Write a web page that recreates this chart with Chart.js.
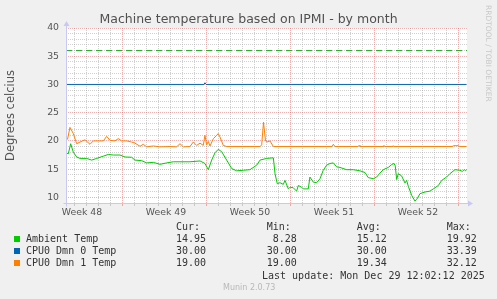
<!DOCTYPE html>
<html>
<head>
<meta charset="utf-8">
<script src="https://cdn.jsdelivr.net/npm/chart.js@4.4.1/dist/chart.umd.min.js"></script>
<style>
body { margin: 0; background: #f0f0f0; width: 497px; height: 299px; overflow: hidden; position: relative; font-family: "DejaVu Sans", sans-serif; }
canvas { position: absolute; left: 0; top: 0; }
.t { position: absolute; white-space: pre; }
.m { font-family: "DejaVu Sans Mono", monospace; font-size: 10px; line-height: 12px; color: #333; }
#title { left: 0; width: 497px; top: 11px; text-align: center; font-size: 12.5px; color: #505050; }
#rrd { left: 484px; top: 5px; writing-mode: vertical-rl; font-size: 7.5px; color: #c8c8c8; }
#munin { left: 223px; top: 283px; font-size: 8px; color: #b8b8b8; }
.sw { position: absolute; width: 6px; height: 6px; }
</style>
</head>
<body>
<canvas id="chart" width="497" height="299"></canvas>
<div class="t" id="title">Machine temperature based on IPMI - by month</div>
<div class="t" id="rrd">RRDTOOL / TOBI OETIKER</div>
<div id="legend"></div>
<div class="t m" style="left:262px;top:270px">Last update: Mon Dec 29 12:02:12 2025</div>
<div class="t" id="munin">Munin 2.0.73</div>
<script>
// time in days from the left edge of the graph
const ambientDays = [0.04, 0.19, 0.39, 0.61, 0.89, 1.17, 1.72, 2.14, 2.56, 3.11, 3.53, 3.94, 4.5, 4.92, 5.47, 5.75, 6.31, 6.72, 7.28, 7.83, 8.39, 8.94, 9.5, 10.33, 11.17, 11.58, 11.86, 12.14, 12.42, 12.69, 12.97, 13.39, 13.81, 14.22, 14.78, 15.33, 15.89, 16.17, 16.72, 17.28, 17.42, 17.61, 17.83, 18.11, 18.25, 18.53, 18.67, 18.94, 19.22, 19.36, 19.64, 19.78, 20.19, 20.33, 20.61, 20.89, 21.17, 21.44, 21.72, 22.0, 22.28, 22.56, 22.83, 23.39, 23.94, 24.5, 24.92, 25.19, 25.61, 25.89, 26.17, 26.44, 26.86, 27.14, 27.33, 27.44, 27.56, 27.69, 27.97, 28.25, 28.39, 28.53, 28.81, 29.08, 29.22, 29.5, 29.92, 30.33, 30.61, 31.03, 31.31, 31.72, 32.0, 32.42, 32.83, 33.03, 33.19, 33.31, 33.37];
const ambientTemp = [17.9, 17.7, 19.5, 18.0, 17.15, 16.9, 16.9, 16.6, 16.9, 17.3, 17.6, 17.5, 17.5, 17.15, 17.1, 16.6, 16.5, 16.1, 16.2, 15.85, 16.1, 16.3, 16.3, 16.3, 16.45, 16.0, 14.9, 16.6, 17.9, 18.5, 18.1, 16.6, 15.1, 14.7, 14.8, 14.9, 15.7, 16.6, 16.9, 17.0, 14.2, 12.4, 12.6, 12.3, 13.0, 11.5, 11.8, 11.7, 11.1, 12.1, 11.8, 11.5, 11.5, 13.6, 12.7, 12.6, 13.3, 14.8, 15.7, 16.0, 16.1, 15.4, 15.3, 14.9, 14.9, 14.7, 14.4, 13.5, 13.3, 13.6, 14.3, 14.9, 15.3, 15.8, 16.0, 15.6, 13.15, 14.2, 13.8, 12.55, 13.0, 11.95, 10.35, 9.35, 9.6, 10.65, 10.95, 11.1, 11.5, 12.1, 13.0, 13.6, 14.2, 14.9, 14.8, 14.6, 14.9, 14.7, 14.95];

const dmn0Days = [0.04, 11.5, 11.58, 11.67, 33.37];
const dmn0Temp = [30, 30, 30.3, 30, 30];

const dmn1Days = [0.04, 0.13, 0.33, 0.61, 0.89, 1.17, 1.58, 2.0, 2.28, 3.11, 3.39, 3.67, 4.08, 4.36, 4.64, 5.06, 5.47, 5.75, 6.17, 6.44, 6.72, 7.28, 7.83, 8.67, 9.22, 9.5, 9.78, 10.33, 10.61, 10.89, 11.17, 11.44, 11.58, 11.72, 11.86, 12.0, 12.28, 12.56, 12.69, 12.83, 13.11, 13.39, 16.17, 16.31, 16.46, 16.63, 16.75, 17.0, 17.28, 22.17, 22.28, 22.42, 24.33, 24.42, 24.5, 26.42, 26.5, 26.58, 27.17, 27.25, 27.33, 32.17, 32.33, 32.67, 32.83, 33.37];
const dmn1Temp = [20.4, 20.3, 22.4, 21.3, 19.5, 19.8, 20.2, 19.4, 20.0, 20.0, 20.8, 20.1, 20.0, 20.4, 20.0, 20.0, 19.8, 19.6, 19.05, 19.4, 18.95, 19.1, 18.95, 19.0, 18.95, 19.5, 18.95, 19.0, 19.8, 19.2, 19.6, 19.2, 21.0, 19.3, 19.9, 19.1, 20.4, 21.0, 21.3, 20.7, 19.2, 19.0, 19.0, 19.3, 23.3, 20.0, 19.8, 20.0, 19.0, 19.0, 19.4, 19.0, 19.0, 19.2, 19.0, 19.0, 19.2, 19.0, 19.0, 19.15, 19.0, 19.0, 19.15, 19.15, 19.0, 19.0];

const warningLevel = 36;
const spanDays = 33.42;

const weekLabels = ['Week 48', 'Week 49', 'Week 50', 'Week 51', 'Week 52'];
const weekCenters = [1.33, 8.33, 15.33, 22.33, 29.33];
const firstDayLine = 0.75;
const yTicks = [10, 15, 20, 25, 30, 35, 40];

const seriesNames = ['Ambient Temp', 'CPU0 Dmn 0 Temp', 'CPU0 Dmn 1 Temp'];
const seriesColors = ['#00cc00', '#0066b3', '#ff8000'];
const curValues = ['14.95', '30.00', '19.00'];
const minValues = [' 8.28', '30.00', '19.00'];
const avgValues = ['15.12', '30.00', '19.34'];
const maxValues = ['19.92', '33.39', '32.12'];

// legend table
const legend = document.getElementById('legend');
const cols = [176, 266.7, 356.7, 446.7];
['Cur:', 'Min:', 'Avg:', 'Max:'].forEach((h, i) => {
    legend.insertAdjacentHTML('beforeend', `<div class="t m" style="left:${cols[i]}px;top:221px">${h}</div>`);
});
seriesNames.forEach((name, r) => {
    const top = 233 + r * 12.2;
    legend.insertAdjacentHTML('beforeend', `<div class="sw" style="left:14px;top:${top + 3}px;background:${seriesColors[r]}"></div>`);
    legend.insertAdjacentHTML('beforeend', `<div class="t m" style="left:26px;top:${top}px">${name}</div>`);
    [curValues, minValues, avgValues, maxValues].forEach((vals, i) => {
        legend.insertAdjacentHTML('beforeend', `<div class="t m" style="left:${cols[i]}px;top:${top}px">${vals[r]}</div>`);
    });
});

function points(xs, ys) {
    return xs.map((x, i) => ({ x: x, y: ys[i] }));
}

const frame = {
    id: 'frame',
    beforeDraw(chart) {
        const { ctx, chartArea: a } = chart;
        ctx.save();
        ctx.fillStyle = '#ffffff';
        ctx.fillRect(a.left, a.top, a.right - a.left, a.bottom - a.top);
        ctx.restore();
    },
    afterDraw(chart) {
        const { ctx, chartArea: a } = chart;
        const x0 = Math.round(a.left) + 0.5;
        const y0 = Math.round(a.bottom) + 0.5;
        ctx.save();
        ctx.strokeStyle = '#c8c8f4';
        ctx.fillStyle = '#c8c8f4';
        ctx.lineWidth = 1;
        ctx.beginPath();
        ctx.moveTo(x0 - 3, y0);
        ctx.lineTo(a.right + 2, y0);
        ctx.moveTo(x0, y0 + 3);
        ctx.lineTo(x0, a.top - 4);
        ctx.stroke();
        ctx.beginPath();
        ctx.moveTo(a.right + 1, y0 - 3);
        ctx.lineTo(a.right + 6, y0);
        ctx.lineTo(a.right + 1, y0 + 3);
        ctx.fill();
        ctx.beginPath();
        ctx.moveTo(x0 - 3, a.top - 2);
        ctx.lineTo(x0, a.top - 7);
        ctx.lineTo(x0 + 3, a.top - 2);
        ctx.fill();
        ctx.restore();
    }
};

const minorGrid = 'rgba(150,150,150,0.45)';
const majorGrid = 'rgba(222,80,80,0.45)';

function dayColor(c) {
    const v = c.tick.value;
    if (weekCenters.indexOf(v) >= 0) return 'rgba(0,0,0,0)';
    return Math.round(v - firstDayLine) % 7 === 4 ? majorGrid : minorGrid;
}

new Chart(document.getElementById('chart'), {
    type: 'line',
    data: {
        datasets: [
            { data: points([0, spanDays], [warningLevel, warningLevel]), borderColor: '#22aa22', borderWidth: 1, borderDash: [6, 4] },
            { data: points(dmn0Days, dmn0Temp), borderColor: seriesColors[1], borderWidth: 1 },
            { data: points(dmn1Days, dmn1Temp), borderColor: seriesColors[2], borderWidth: 1 },
            { data: points(ambientDays, ambientTemp), borderColor: seriesColors[0], borderWidth: 1 }
        ]
    },
    options: {
        responsive: false,
        animation: false,
        devicePixelRatio: 1,
        layout: { padding: { left: 0, top: 28, right: 30, bottom: 76 } },
        elements: { point: { radius: 0 }, line: { tension: 0 } },
        plugins: { legend: { display: false }, tooltip: { enabled: false } },
        scales: {
            x: {
                type: 'linear',
                min: 0,
                max: spanDays,
                afterFit: (s) => { s.height = 20; },
                afterBuildTicks: (s) => {
                    const vals = weekCenters.slice();
                    for (let d = firstDayLine; d < spanDays; d += 1) vals.push(d);
                    vals.sort((a, b) => a - b);
                    s.ticks = vals.map((v) => ({ value: v }));
                },
                ticks: {
                    autoSkip: false,
                    maxRotation: 0,
                    padding: 1,
                    color: '#555',
                    font: { family: 'DejaVu Sans', size: 9.33 },
                    callback: (v) => {
                        const i = weekCenters.indexOf(v);
                        return i >= 0 ? weekLabels[i] : '';
                    }
                },
                grid: { tickLength: 3, color: dayColor, tickColor: dayColor },
                border: { display: false, dash: [1, 1] }
            },
            y: {
                min: 9,
                max: 40,
                afterFit: (s) => { s.width = 66; },
                afterBuildTicks: (s) => {
                    const vals = [];
                    for (let v = 10; v <= 40; v++) vals.push(v);
                    s.ticks = vals.map((v) => ({ value: v }));
                },
                ticks: {
                    autoSkip: false,
                    padding: 7,
                    color: '#555',
                    font: { family: 'DejaVu Sans', size: 9.33 },
                    callback: (v) => (yTicks.indexOf(v) >= 0 ? String(v) : '')
                },
                title: {
                    display: true,
                    text: 'Degrees celcius',
                    color: '#555',
                    font: { family: 'DejaVu Sans', size: 11.5 },
                    padding: { top: 4, bottom: 0 }
                },
                grid: {
                    drawTicks: false,
                    color: (c) => (c.tick.value % 5 === 0 ? majorGrid : minorGrid)
                },
                border: { display: false, dash: [1, 1] }
            }
        }
    },
    plugins: [frame]
});
</script>
</body>
</html>
